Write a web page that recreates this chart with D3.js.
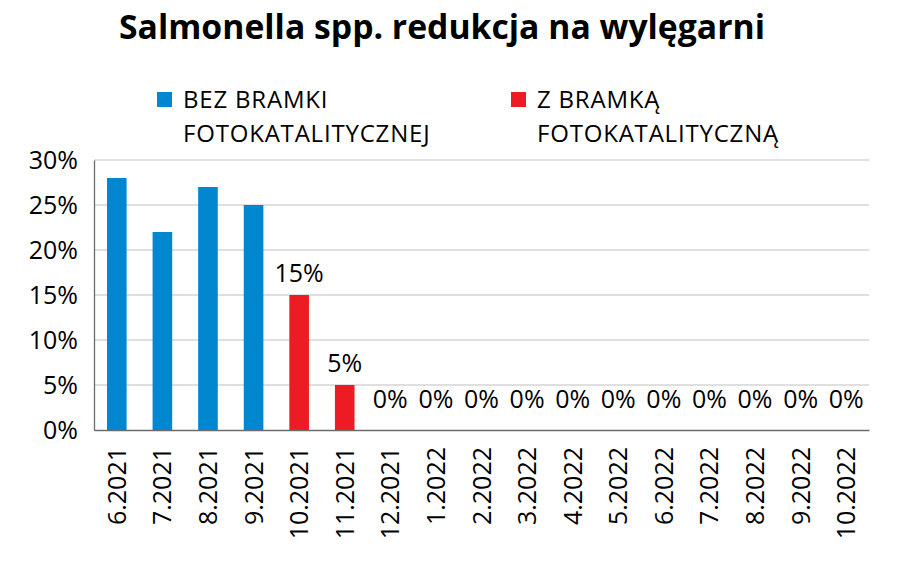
<!DOCTYPE html>
<html lang="pl">
<head>
<meta charset="utf-8">
<title>Salmonella spp. redukcja na wylęgarni</title>
<script src="https://cdn.jsdelivr.net/npm/d3@7"></script>
<style>
  body { margin: 0; background: #fff; }
  svg text { font-family: "Open Sans", "DejaVu Sans", sans-serif; fill: #000; }
  .grid line { stroke: #bfbfbf; stroke-width: 1; }
</style>
</head>
<body>
<div id="chart"></div>
<script>
var w = 916, h = 566;

// data
var months = ["6.2021", "7.2021", "8.2021", "9.2021", "10.2021", "11.2021", "12.2021",
  "1.2022", "2.2022", "3.2022", "4.2022", "5.2022", "6.2022", "7.2022", "8.2022", "9.2022", "10.2022"];
var bezBramki = [28, 22, 27, 25, null, null, null, null, null, null, null, null, null, null, null, null, null];
var zBramka = [null, null, null, null, 15, 5, 0, 0, 0, 0, 0, 0, 0, 0, 0, 0, 0];
var yTicks = [0, 5, 10, 15, 20, 25, 30];
var seriesNames = [["BEZ BRAMKI", "FOTOKATALITYCZNEJ"], ["Z BRAMKĄ", "FOTOKATALITYCZNĄ"]];
var colors = ["#0087d0", "#ed1c24"];

var svg = d3.select("#chart").append("svg")
  .attr("width", w).attr("height", h);

var margin = { left: 94, right: 47, top: 160, bottom: 136 };

var x = d3.scaleBand()
  .domain(months)
  .range([margin.left, w - margin.right])
  .paddingInner(0).paddingOuter(0);

var y = d3.scaleLinear()
  .domain([0, 30])
  .range([h - margin.bottom, margin.top]);

var barW = x.bandwidth() * 0.43;

// gridlines
svg.append("g").attr("class", "grid")
  .selectAll("line")
  .data(yTicks.filter(function(d) { return d > 0; }))
  .enter().append("line")
  .attr("x1", margin.left).attr("x2", w - margin.right)
  .attr("y1", function(d) { return y(d); })
  .attr("y2", function(d) { return y(d); });

// y axis
var yAxis = svg.append("g")
  .attr("transform", "translate(" + margin.left + ",0)")
  .call(d3.axisLeft(y).tickValues(yTicks).tickSize(0).tickPadding(16)
    .tickFormat(function(d) { return d + "%"; }));
yAxis.select(".domain").attr("stroke", "#6b6b6b").attr("stroke-width", 1.3);
yAxis.selectAll("text").style("font-size", "25px").attr("dy", "0.35em");

// bars
var series = [bezBramki, zBramka];
series.forEach(function(vals, si) {
  svg.append("g").selectAll("rect")
    .data(vals.map(function(v, i) { return { m: months[i], v: v }; })
      .filter(function(d) { return d.v !== null && d.v > 0; }))
    .enter().append("rect")
    .attr("x", function(d) { return x(d.m) + (x.bandwidth() - barW) / 2; })
    .attr("y", function(d) { return y(d.v); })
    .attr("width", barW)
    .attr("height", function(d) { return y(0) - y(d.v); })
    .attr("fill", colors[si]);
});

// data labels (only second series)
svg.append("g").selectAll("text")
  .data(zBramka.map(function(v, i) { return { m: months[i], v: v }; })
    .filter(function(d) { return d.v !== null; }))
  .enter().append("text")
  .attr("x", function(d) { return x(d.m) + x.bandwidth() / 2; })
  .attr("y", function(d) { return Math.min(y(d.v) - 13, y(0) - 22); })
  .attr("text-anchor", "middle")
  .style("font-size", "25px")
  .text(function(d) { return d.v + "%"; });

// x axis
var xAxis = svg.append("g")
  .attr("transform", "translate(0," + y(0) + ")")
  .call(d3.axisBottom(x).tickSize(0).tickPadding(0));
xAxis.select(".domain").attr("stroke", "#6b6b6b").attr("stroke-width", 1.3);
xAxis.selectAll("text")
  .style("font-size", "25px")
  .attr("text-anchor", "end")
  .attr("transform", "translate(0,17) rotate(-90)")
  .attr("x", 0).attr("y", 0)
  .attr("dy", "0.36em");

// title
var title = svg.append("text")
  .attr("x", 442).attr("y", 39)
  .attr("text-anchor", "middle")
  .style("font-weight", "bold")
  .style("font-size", "33px")
  .text("Salmonella spp. redukcja na wylęgarni");
var tl = title.node().getComputedTextLength();
title.style("font-size", (33 * 646 / tl) + "px");

// legend
var legX = [157, 511];
var legend = svg.append("g");
seriesNames.forEach(function(lines, i) {
  legend.append("rect")
    .attr("x", legX[i]).attr("y", 92)
    .attr("width", 15).attr("height", 15)
    .attr("fill", colors[i]);
  lines.forEach(function(t, j) {
    legend.append("text")
      .attr("x", legX[i] + 26).attr("y", 108 + j * 34)
      .style("font-size", "24px")
      .style("letter-spacing", "0.8px")
      .text(t);
  });
});
</script>
</body>
</html>
